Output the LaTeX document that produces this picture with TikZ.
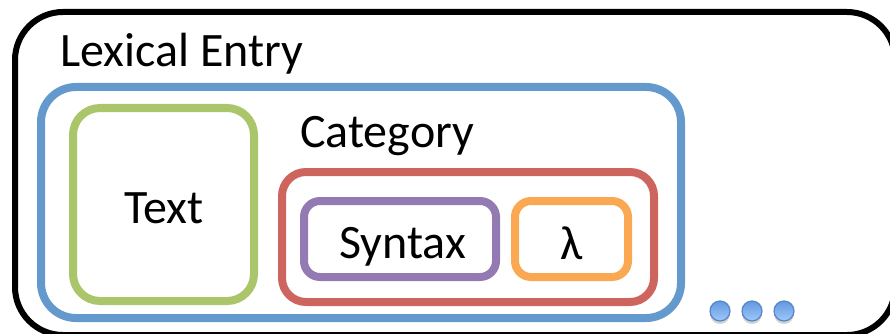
\documentclass[tikz,border=0pt]{standalone}
\usepackage{fontspec}
\setmainfont{Carlito}
\usepackage{tikz}
\usetikzlibrary{shadows}
\definecolor{EntryBlack}{RGB}{0,0,0}
\definecolor{LexBlue}{RGB}{99,153,205}
\definecolor{FormGreen}{RGB}{170,197,106}
\definecolor{CatRed}{RGB}{205,101,94}
\definecolor{SynPurple}{RGB}{148,122,178}
\definecolor{SemOrange}{RGB}{250,168,82}
\definecolor{DotBlue}{RGB}{84,134,200}
\definecolor{DotTop}{RGB}{100,152,222}
\definecolor{DotBottom}{RGB}{160,200,250}
\tikzset{
  frame/.style={draw, line width=8pt, fill=none, inner sep=0pt},
  lbl/.style={font=\fontsize{48}{58}\selectfont, inner sep=0pt},
  dot/.style={circle, minimum size=20pt, inner sep=0pt, draw=DotBlue, line width=1.2pt,
    top color=DotTop, bottom color=DotBottom,
    drop shadow={shadow xshift=0pt, shadow yshift=-3pt, opacity=0.3, fill=black!60}},
}

\begin{document}
\begin{tikzpicture}[x=1pt, y=-1pt]
  \useasboundingbox (0,0) rectangle (890,334);
  \begin{scope}
    \clip (0,0) rectangle (890,334);
    % outer entry frame runs off the page
    \node[frame, line width=6pt, draw=EntryBlack, rounded corners=48pt,
      minimum width=880pt, minimum height=323pt] (entry) at (455,173.5) {};
  \end{scope}
  \node[lbl, anchor=base west] (entrylbl) at (60,67) {Lexical Entry};

  % lexical content
  \node[frame, draw=LexBlue, rounded corners=35pt,
    minimum width=640pt, minimum height=231pt] (lex) at (361,202.5) {};
  \node[frame, draw=FormGreen, rounded corners=27pt,
    minimum width=181pt, minimum height=193pt] (form) at (163.5,204.5) {};
  \node[lbl, anchor=base] (formlbl) at (164,223) {Text};

  % category with syntax and semantics
  \node[lbl, anchor=base west] (catlbl) at (300,147) {Category};
  \node[frame, draw=CatRed, rounded corners=24pt,
    minimum width=372pt, minimum height=130pt] (cat) at (468,237) {};
  \node[frame, draw=SynPurple, rounded corners=16pt,
    minimum width=192pt, minimum height=76pt] (syn) at (400,239) {};
  \node[lbl, anchor=base] (synlbl) at (402.5,258) {Syntax};
  \node[frame, draw=SemOrange, rounded corners=16pt,
    minimum width=113pt, minimum height=76pt] (sem) at (571.5,239) {};
  \node[lbl, anchor=base] (semlbl) at (572,259) {λ};

  % more entries
  \foreach \x [count=\i] in {720,752,784}
    \node[dot] (more\i) at (\x,311) {};
\end{tikzpicture}
\end{document}
